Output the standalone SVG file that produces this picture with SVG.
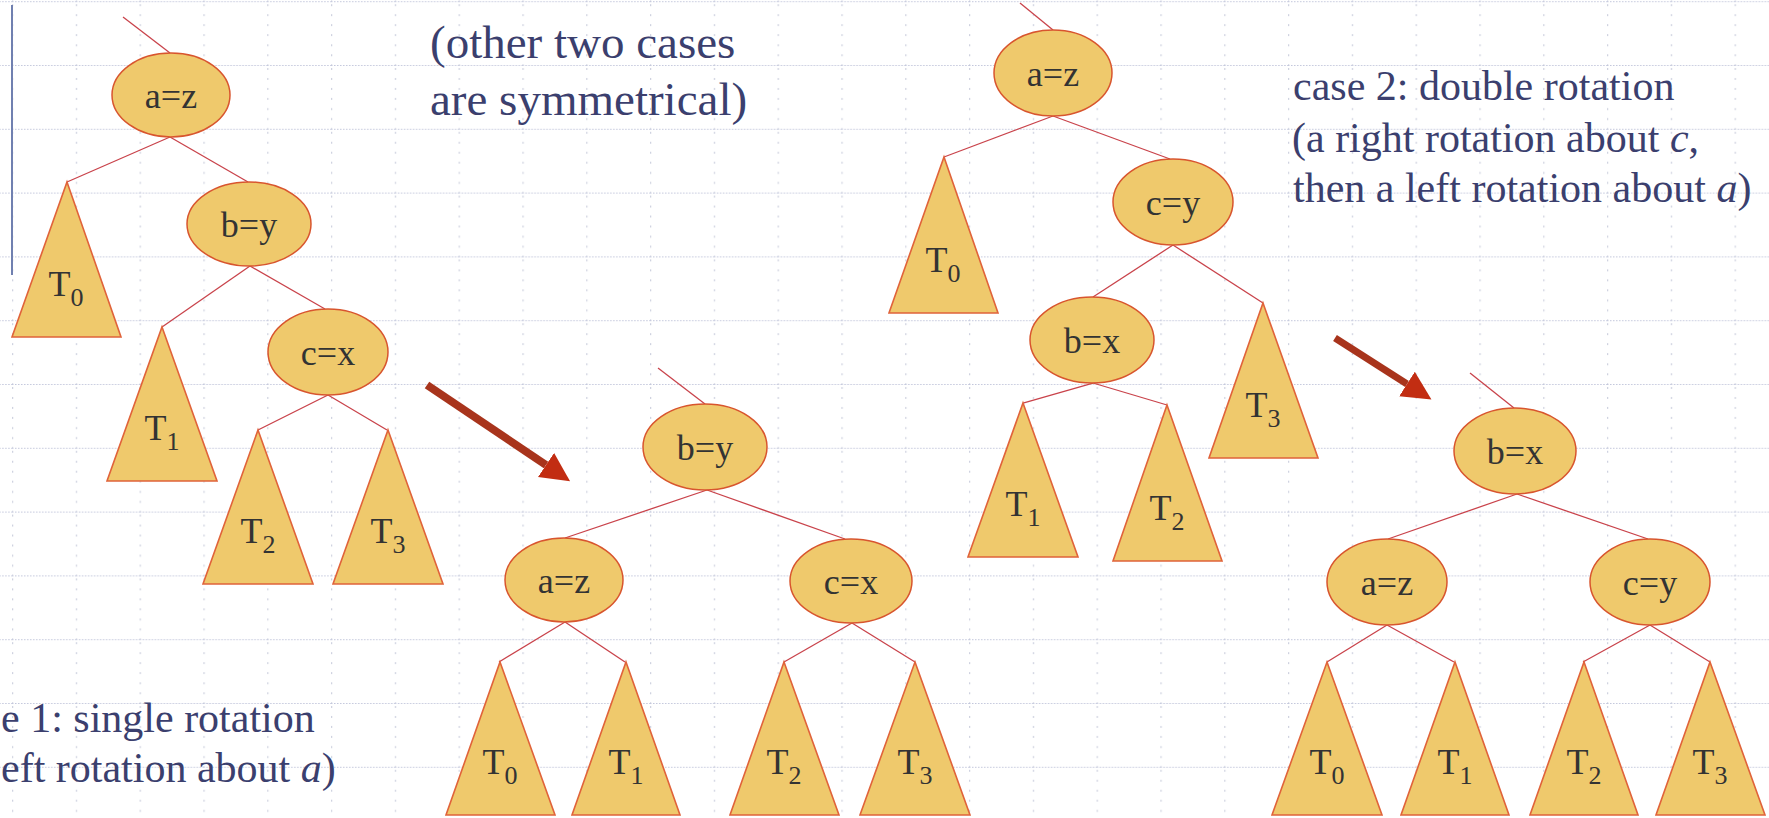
<svg xmlns="http://www.w3.org/2000/svg" width="1769" height="818" viewBox="0 0 1769 818">
<defs>
<pattern id="grid" x="12" y="65" width="63.8" height="63.8" patternUnits="userSpaceOnUse">
<line x1="0" y1="0.5" x2="63.8" y2="0.5" stroke="#c3c7dc" stroke-width="1.2" stroke-dasharray="1.5 1.5"/>
<line x1="0.5" y1="3" x2="0.5" y2="63.8" stroke="#cfd2e0" stroke-width="1.5" stroke-dasharray="2 8"/>
</pattern>
<marker id="ah" markerUnits="userSpaceOnUse" markerWidth="30" markerHeight="30" refX="0" refY="14.5" orient="auto">
<path d="M0,0 L29,14.5 L0,29 Z" fill="#c22d12"/>
</marker>
</defs>
<style>
.n{fill:#efc96c;stroke:#d8552e;stroke-width:1.5}
.t{fill:#efc96c;stroke:#e0633a;stroke-width:1.6;stroke-linejoin:miter}
.e{stroke:#c9434b;stroke-width:1.3;fill:none}
.lb{font-family:"Liberation Serif","Times New Roman",serif;font-size:36px;fill:#333;text-anchor:middle}
.sb{font-size:26px}
.cap{font-family:"Liberation Serif","Times New Roman",serif;fill:#3b3f6e}
.arr{stroke:#a8341c;stroke-linecap:butt}
</style>
<rect width="1769" height="818" fill="#fff"/>
<rect width="1769" height="818" fill="url(#grid)"/>
<line x1="12" y1="5" x2="12" y2="275" stroke="#7080b0" stroke-width="2"/>

<g id="connectors">
<line class="e" x1="123" y1="17" x2="170" y2="53"/>
<line class="e" x1="170" y1="137" x2="67" y2="182"/>
<line class="e" x1="170" y1="137" x2="248" y2="182"/>
<line class="e" x1="250" y1="266" x2="162" y2="327"/>
<line class="e" x1="250" y1="266" x2="325" y2="309"/>
<line class="e" x1="328" y1="395" x2="258" y2="430"/>
<line class="e" x1="328" y1="395" x2="387" y2="430"/>

<line class="e" x1="658" y1="368" x2="705" y2="404"/>
<line class="e" x1="707" y1="490" x2="565" y2="538"/>
<line class="e" x1="707" y1="490" x2="845" y2="539"/>
<line class="e" x1="565" y1="622" x2="499" y2="662"/>
<line class="e" x1="565" y1="622" x2="625" y2="662"/>
<line class="e" x1="852" y1="623" x2="784" y2="662"/>
<line class="e" x1="852" y1="623" x2="915" y2="662"/>

<line class="e" x1="1020" y1="3" x2="1053" y2="30"/>
<line class="e" x1="1053" y1="116" x2="944" y2="157"/>
<line class="e" x1="1053" y1="116" x2="1170" y2="159"/>
<line class="e" x1="1173" y1="245" x2="1093" y2="297"/>
<line class="e" x1="1173" y1="245" x2="1263" y2="303"/>
<line class="e" x1="1093" y1="383" x2="1023" y2="403"/>
<line class="e" x1="1093" y1="383" x2="1167" y2="405"/>

<line class="e" x1="1470" y1="373" x2="1514" y2="408"/>
<line class="e" x1="1517" y1="494" x2="1388" y2="539"/>
<line class="e" x1="1517" y1="494" x2="1648" y2="539"/>
<line class="e" x1="1387" y1="625" x2="1327" y2="662"/>
<line class="e" x1="1387" y1="625" x2="1454" y2="662"/>
<line class="e" x1="1650" y1="625" x2="1583" y2="662"/>
<line class="e" x1="1650" y1="625" x2="1710" y2="662"/>

<line class="arr" x1="427" y1="385" x2="546" y2="465" stroke-width="8" marker-end="url(#ah)"/>
<line class="arr" x1="1335" y1="338" x2="1407" y2="384" stroke-width="7" marker-end="url(#ah)"/>
</g>

<!-- Tree 1 -->
<g id="t1-a"><ellipse class="n" cx="171" cy="95" rx="59" ry="42"/><text class="lb" x="171" y="108">a=z</text></g>
<g id="t1-b"><ellipse class="n" cx="249" cy="224" rx="62" ry="42"/><text class="lb" x="249" y="237">b=y</text></g>
<g id="t1-c"><ellipse class="n" cx="328" cy="352" rx="60" ry="43"/><text class="lb" x="328" y="365">c=x</text></g>
<g id="t1-T0"><polygon class="t" points="67,182 121,337 12,337"/><text class="lb" x="66" y="296">T<tspan class="sb" dy="10">0</tspan></text></g>
<g id="t1-T1"><polygon class="t" points="162,327 217,481 107,481"/><text class="lb" x="162" y="440">T<tspan class="sb" dy="10">1</tspan></text></g>
<g id="t1-T2"><polygon class="t" points="258,430 313,584 203,584"/><text class="lb" x="258" y="543">T<tspan class="sb" dy="10">2</tspan></text></g>
<g id="t1-T3"><polygon class="t" points="388,430 443,584 333,584"/><text class="lb" x="388" y="543">T<tspan class="sb" dy="10">3</tspan></text></g>

<!-- Tree 2 -->
<g id="t2-b"><ellipse class="n" cx="705" cy="447" rx="62" ry="43"/><text class="lb" x="705" y="460">b=y</text></g>
<g id="t2-a"><ellipse class="n" cx="564" cy="580" rx="59" ry="42"/><text class="lb" x="564" y="593">a=z</text></g>
<g id="t2-c"><ellipse class="n" cx="851" cy="581" rx="61" ry="42"/><text class="lb" x="851" y="594">c=x</text></g>
<g id="t2-T0"><polygon class="t" points="500,662 555,815 446,815"/><text class="lb" x="500" y="774">T<tspan class="sb" dy="10">0</tspan></text></g>
<g id="t2-T1"><polygon class="t" points="626,662 680,815 572,815"/><text class="lb" x="626" y="774">T<tspan class="sb" dy="10">1</tspan></text></g>
<g id="t2-T2"><polygon class="t" points="784,662 839,815 730,815"/><text class="lb" x="784" y="774">T<tspan class="sb" dy="10">2</tspan></text></g>
<g id="t2-T3"><polygon class="t" points="915,662 970,815 860,815"/><text class="lb" x="915" y="774">T<tspan class="sb" dy="10">3</tspan></text></g>

<!-- Tree 3 -->
<g id="t3-a"><ellipse class="n" cx="1053" cy="73" rx="59" ry="43"/><text class="lb" x="1053" y="86">a=z</text></g>
<g id="t3-c"><ellipse class="n" cx="1173" cy="202" rx="60" ry="43"/><text class="lb" x="1173" y="215">c=y</text></g>
<g id="t3-b"><ellipse class="n" cx="1092" cy="340" rx="62" ry="43"/><text class="lb" x="1092" y="353">b=x</text></g>
<g id="t3-T0"><polygon class="t" points="944,157 998,313 889,313"/><text class="lb" x="943" y="272">T<tspan class="sb" dy="10">0</tspan></text></g>
<g id="t3-T3"><polygon class="t" points="1263,303 1318,458 1209,458"/><text class="lb" x="1263" y="417">T<tspan class="sb" dy="10">3</tspan></text></g>
<g id="t3-T1"><polygon class="t" points="1023,403 1078,557 968,557"/><text class="lb" x="1023" y="516">T<tspan class="sb" dy="10">1</tspan></text></g>
<g id="t3-T2"><polygon class="t" points="1167,405 1222,561 1113,561"/><text class="lb" x="1167" y="520">T<tspan class="sb" dy="10">2</tspan></text></g>

<!-- Tree 4 -->
<g id="t4-b"><ellipse class="n" cx="1515" cy="451" rx="61" ry="43"/><text class="lb" x="1515" y="464">b=x</text></g>
<g id="t4-a"><ellipse class="n" cx="1387" cy="582" rx="60" ry="43"/><text class="lb" x="1387" y="595">a=z</text></g>
<g id="t4-c"><ellipse class="n" cx="1650" cy="582" rx="60" ry="43"/><text class="lb" x="1650" y="595">c=y</text></g>
<g id="t4-T0"><polygon class="t" points="1327,662 1382,815 1272,815"/><text class="lb" x="1327" y="774">T<tspan class="sb" dy="10">0</tspan></text></g>
<g id="t4-T1"><polygon class="t" points="1455,662 1509,815 1401,815"/><text class="lb" x="1455" y="774">T<tspan class="sb" dy="10">1</tspan></text></g>
<g id="t4-T2"><polygon class="t" points="1584,662 1638,815 1530,815"/><text class="lb" x="1584" y="774">T<tspan class="sb" dy="10">2</tspan></text></g>
<g id="t4-T3"><polygon class="t" points="1710,662 1765,815 1656,815"/><text class="lb" x="1710" y="774">T<tspan class="sb" dy="10">3</tspan></text></g>

<g id="captions">
<text class="cap" font-size="47" x="430" y="58">(other two cases</text>
<text class="cap" font-size="47" x="430" y="115">are symmetrical)</text>
<text class="cap" font-size="42" x="1293" y="100">case 2: double rotation</text>
<text class="cap" font-size="42" x="1292" y="152">(a right rotation about <tspan font-style="italic">c</tspan>,</text>
<text class="cap" font-size="42" x="1293" y="202">then a left rotation about <tspan font-style="italic">a</tspan>)</text>
<text class="cap" font-size="42" x="1" y="732">e 1: single rotation</text>
<text class="cap" font-size="42" x="1" y="782">eft rotation about <tspan font-style="italic">a</tspan>)</text>
</g>
</svg>
